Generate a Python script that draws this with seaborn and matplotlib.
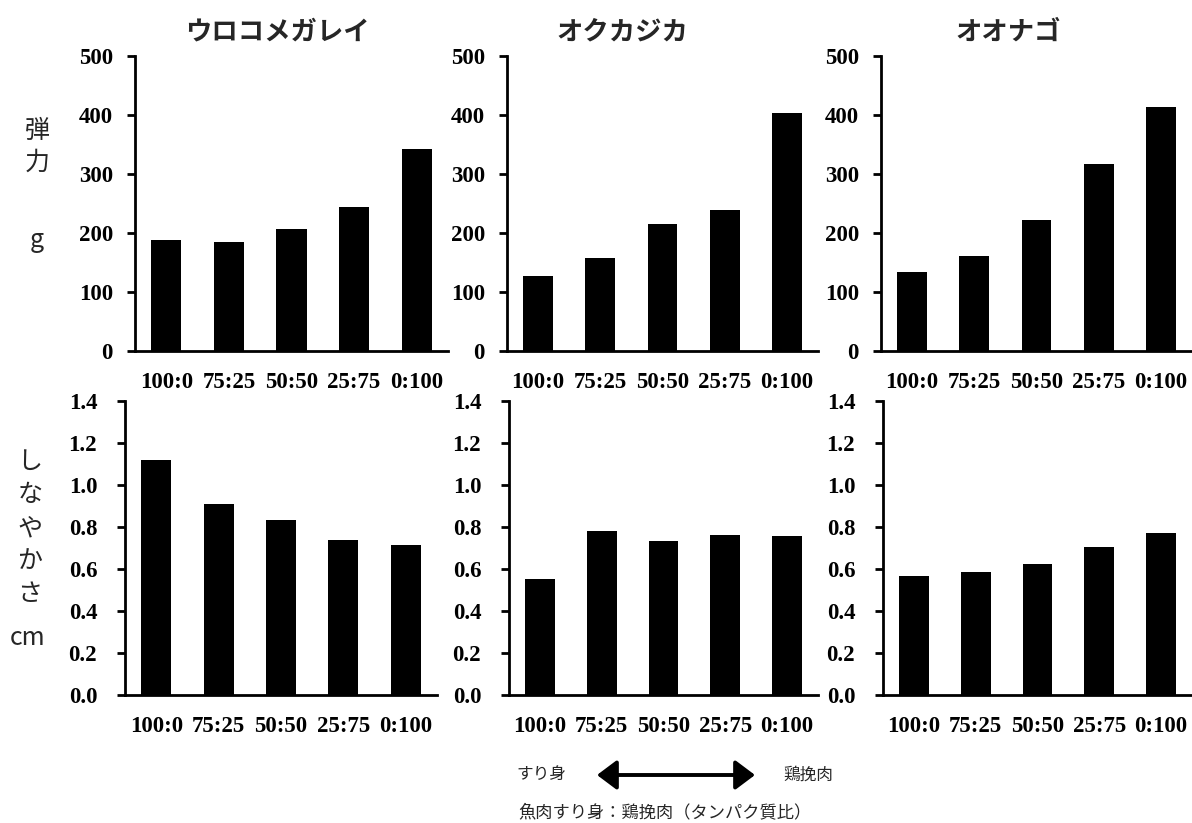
import matplotlib
matplotlib.use("Agg")
import matplotlib.pyplot as plt
import seaborn as sns
import pandas as pd

# Mixing ratio of fish surimi : minced chicken (protein basis)
ratios = ["100:0", "75:25", "50:50", "25:75", "0:100"]
species = ["ウロコメガレイ", "オクカジカ", "オオナゴ"]

# Elasticity (g)
elastic_urokomegarei = [188, 185, 207, 244, 341]
elastic_okukajika = [127, 158, 215, 238, 403]
elastic_oonago = [133, 160, 221, 316, 413]

# Flexibility (cm)
flex_urokomegarei = [1.118, 0.907, 0.833, 0.736, 0.714]
flex_okukajika = [0.550, 0.779, 0.733, 0.760, 0.758]
flex_oonago = [0.568, 0.584, 0.622, 0.703, 0.771]

elastic_rows = [elastic_urokomegarei, elastic_okukajika, elastic_oonago]
flex_rows = [flex_urokomegarei, flex_okukajika, flex_oonago]

sns.set_theme(style="ticks")
plt.rcParams["font.family"] = ["Noto Sans CJK JP", "DejaVu Sans"]

W, H = 1192, 823
fig = plt.figure(figsize=(W / 100, H / 100), dpi=100)


def px_axes(x0, y0, x1, y1):
    return fig.add_axes([x0 / W, 1 - y1 / H, (x1 - x0) / W, (y1 - y0) / H])


top_boxes = [(135, 55.5, 448, 351), (507, 55.5, 818, 351), (881, 55.5, 1192, 351)]
bot_boxes = [(125, 400.7, 437, 695), (509, 400.7, 818, 695), (883, 400.7, 1192, 695)]

tick_font = dict(family="Liberation Serif", weight="bold", size=16.5)


def draw_panel(ax, values, ylim, yticks, fmt, ypad):
    df = pd.DataFrame({"ratio": ratios, "value": values})
    sns.barplot(data=df, x="ratio", y="value", color="black", saturation=1,
                width=0.48, edgecolor="none", ax=ax)
    ax.set_xlim(-0.5, 4.5)
    ax.set_ylim(*ylim)
    ax.set_yticks(yticks)
    ax.set_yticklabels([fmt.format(v) for v in yticks], fontdict=tick_font)
    ax.set_xticks(range(len(ratios)))
    ax.set_xticklabels(ratios, fontdict=tick_font)
    ax.set_xlabel("")
    ax.set_ylabel("")
    for side in ("top", "right"):
        ax.spines[side].set_visible(False)
    for side in ("left", "bottom"):
        ax.spines[side].set_linewidth(2.0)
        ax.spines[side].set_color("black")
    ax.tick_params(axis="y", direction="out", length=6, width=2.0,
                   pad=ypad, colors="black")
    ax.tick_params(axis="x", length=0, pad=15, colors="black")


for i in range(3):
    ax = px_axes(*top_boxes[i])
    draw_panel(ax, elastic_rows[i], (0, 500), [0, 100, 200, 300, 400, 500],
               "{:.0f}", 10)
    ax = px_axes(*bot_boxes[i])
    draw_panel(ax, flex_rows[i], (0, 1.4),
               [0, 0.2, 0.4, 0.6, 0.8, 1.0, 1.2, 1.4], "{:.1f}", 14)

# Species titles
title_x = [277, 622, 1008]
for name, x in zip(species, title_x):
    fig.text(x / W, 1 - 32 / H, name, ha="center", va="center",
             fontsize=19, fontweight="bold")

# Row labels (vertical)
fig.text(37 / W, 1 - 147 / H, "弾\n力", ha="center", va="center",
         fontsize=18, linespacing=1.3)
fig.text(37 / W, 1 - 240 / H, "g", ha="center", va="center", fontsize=18)
fig.text(30 / W, 1 - 528 / H, "し\nな\nや\nか\nさ", ha="center", va="center",
         fontsize=18, linespacing=1.36)
fig.text(28 / W, 1 - 638 / H, "cm", ha="center", va="center", fontsize=18)

# Mixing direction note below the middle panel
fig.text(541 / W, 1 - 775 / H, "すり身", ha="center", va="center", fontsize=12)
fig.text(808 / W, 1 - 775 / H, "鶏挽肉", ha="center", va="center", fontsize=12)
fig.text(518 / W, 1 - 812 / H, "魚肉すり身：鶏挽肉（タンパク質比）",
         ha="left", va="center", fontsize=12.4)
fig.patches.append(matplotlib.patches.FancyArrowPatch(
    (597 / W, 1 - 775 / H), (755 / W, 1 - 775 / H),
    transform=fig.transFigure, arrowstyle="<|-|>,head_length=0.6,head_width=0.45",
    mutation_scale=20, lw=2.8, color="black", shrinkA=0, shrinkB=0))

fig.savefig("out.png", dpi=100)
